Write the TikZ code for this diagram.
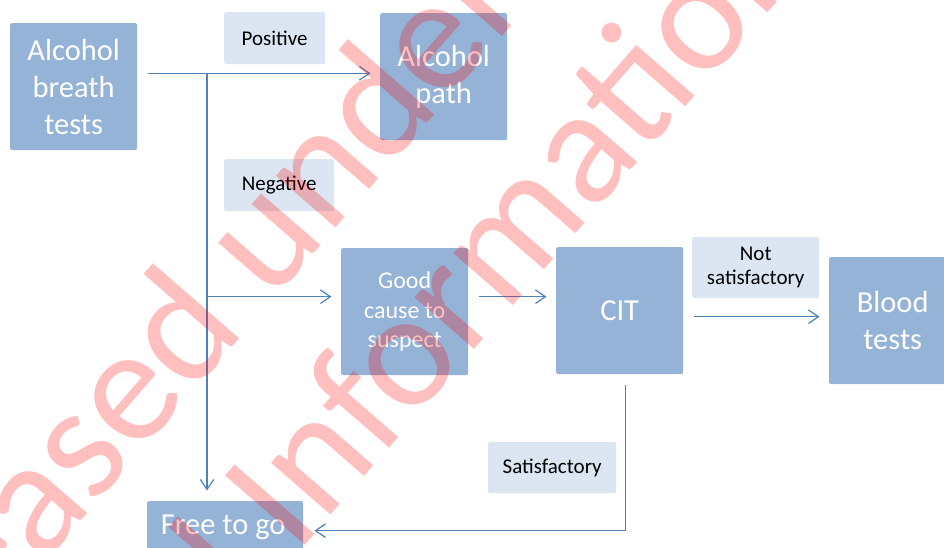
\documentclass[tikz,border=0pt]{standalone}
\usepackage{fontspec}
\setmainfont{Carlito}
\usetikzlibrary{arrows.meta}
\definecolor{boxblue}{RGB}{149,179,215}
\definecolor{tagfill}{RGB}{220,230,242}
\definecolor{linkblue}{RGB}{79,129,189}

\begin{document}
\begin{tikzpicture}[x=1pt,y=-1pt,
  box/.style={fill=boxblue, rounded corners=1.5pt, inner sep=0pt, text=white,
    align=center, anchor=north west, minimum width=127pt, minimum height=127pt},
  tag/.style={fill=tagfill, rounded corners=1.5pt, inner sep=0pt, text=black,
    align=center, anchor=north west, font=\fontsize{21}{24.5}\selectfont},
  big/.style={font=\fontsize{30.5}{37}\selectfont},
  mid/.style={font=\fontsize{24}{29.5}\selectfont},
  link/.style={draw=linkblue, line width=1.2pt,
    -{Straight Barb[length=10pt,width=13.5pt,line width=1.2pt]},
    shorten <=10.5pt, shorten >=9.5pt},
  wm/.style={text=red, text opacity=0.25, font=\fontsize{165}{165}\selectfont,
    rotate=49, inner sep=0pt}
]
\useasboundingbox (0,0) rectangle (944,548);
\clip (0,0) rectangle (944,548);
\fill[white] (0,0) rectangle (944,548);

% process boxes
\node[box, big] (abt) at (10,23) {Alcohol\\breath\\tests};
\node[box, big] (ap) at (380,13) {Alcohol\\path};
\node[box, mid] (good) at (341,248) {Good\\cause to\\suspect};
\node[box, big] (cit) at (556,247) {CIT};
\node[box, big] (blood) at (829,257) {Blood\\tests};
\node[box, minimum width=156pt] (free) at (147,501) {};
\node[big, text=white, inner sep=0pt] (freetxt) at ([xshift=-2pt,yshift=-26pt]free.north) {Free to go};

% outcome tags
\node[tag, minimum width=101pt, minimum height=52pt] (pos) at (224,12) {Positive};
\node[tag, minimum width=110pt, minimum height=52pt] (neg) at (224,159) {Negative};
\node[tag, minimum width=127pt, minimum height=61pt] (notsat) at (692,237) {Not\\satisfactory};
\node[tag, minimum width=128pt, minimum height=51pt] (sat) at (488,442) {Satisfactory};

% junctions of the connectors
\coordinate (j1) at (207,73.3);
\coordinate (j2) at (207,296.7);
\coordinate (j3) at (0,316.7);
\coordinate (c4) at (625.3,530.7);

\draw[link] (abt.east |- j1) -- (ap.west |- j1);
\draw[link, shorten <=0pt, shorten >=10.5pt] (j1) -- (j1 |- free.north);
\draw[link, shorten <=0pt] (j2) -- (good.west |- j2);
\draw[link] (good.east |- j2) -- (cit.west |- j2);
\draw[link] (cit.east |- j3) -- (blood.west |- j3);
\draw[link, shorten >=11pt] (cit.south -| c4) -- (c4) -- (free.east |- c4);

% watermark
\node[wm, anchor=base east] (wm1a) at (247,330.2) {Released};
\node[wm, anchor=base west] (wm1b) at (271.3,302.3) {under the};
\node[wm, anchor=base east] (wm2a) at (272.1,583.1) {Official};
\node[wm, anchor=base west] (wm2b) at (296.4,555.2) {Information Act};
\end{tikzpicture}
\end{document}
